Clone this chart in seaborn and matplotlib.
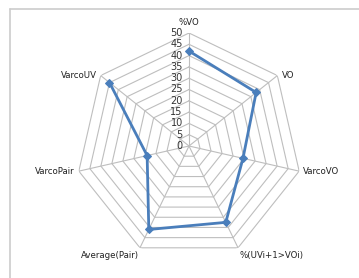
import numpy as np
import matplotlib
matplotlib.use("Agg")
import matplotlib.pyplot as plt
import seaborn as sns
import pandas as pd

categories = ["%VO", "VO", "VarcoVO", "%(UVi+1>VOi)", "Average(Pair)", "VarcoPair", "VarcoUV"]
values = [42, 38, 24.5, 37.5, 41, 19, 45]
rticks = [0, 5, 10, 15, 20, 25, 30, 35, 40, 45, 50]

sns.set_style("white")
plt.rcParams['font.family'] = ['DejaVu Sans']

W, H = 359, 278
fig = plt.figure(figsize=(W / 100, H / 100), dpi=100)
cx, cy, R = 189, 146, 113
ax = fig.add_axes([(cx - R) / W, (H - cy - R) / H, 2 * R / W, 2 * R / H], projection='polar')
ax.set_theta_zero_location('N')
ax.set_theta_direction(-1)
ax.set_ylim(0, rticks[-1])
ax.grid(False)
ax.set_xticks([])
ax.set_yticks([])
ax.spines['polar'].set_visible(False)
ax.patch.set_alpha(0)

n = len(categories)
theta = np.arange(n) * 2 * np.pi / n
gc = "#BEBEBE"
# polygon grid
for r in rticks[1:]:
    th = np.append(theta, theta[0])
    ax.plot(th, [r] * (n + 1), color=gc, lw=0.8, zorder=1)
for t in theta:
    ax.plot([t, t], [0, rticks[-1]], color=gc, lw=0.8, zorder=1)

df = pd.DataFrame({"theta": np.append(theta, theta[0]), "value": values + values[:1]})
sns.lineplot(data=df, x="theta", y="value", sort=False, ax=ax, color="#4A7EBB",
             lw=2, marker="D", markersize=4.5, markeredgecolor="#4A7EBB", zorder=3)
ax.set_xlabel("")
ax.set_ylabel("")

fs = 6.2
# radial tick labels
for r in rticks:
    ax.annotate(str(r), xy=(0, r), xytext=(-4.5, 0), textcoords='offset points',
                ha='right', va='center', fontsize=fs + 0.8, color="#333333")

# category labels
offs = [(0, 4, 'center', 'bottom'), (3, 0, 'left', 'center'), (3, 0, 'left', 'center'),
        (1, -2, 'left', 'top'), (-1, -2, 'right', 'top'), (-3, 0, 'right', 'center'),
        (-3, 0, 'right', 'center')]
for t, lab, (dx, dy, ha, va) in zip(theta, categories, offs):
    ax.annotate(lab, xy=(t, rticks[-1]), xytext=(dx, dy), textcoords='offset points',
                ha=ha, va=va, fontsize=fs, color="#222222", annotation_clip=False)

# chart frame lines (top and left)
fig.add_artist(plt.Line2D([10 / W, 10 / W], [0, 1 - 9 / H], transform=fig.transFigure, color="#CCCCCC", lw=1.2))
fig.add_artist(plt.Line2D([10 / W, 1], [1 - 9 / H, 1 - 9 / H], transform=fig.transFigure, color="#CCCCCC", lw=1.2))

fig.savefig("out.png", dpi=100)
